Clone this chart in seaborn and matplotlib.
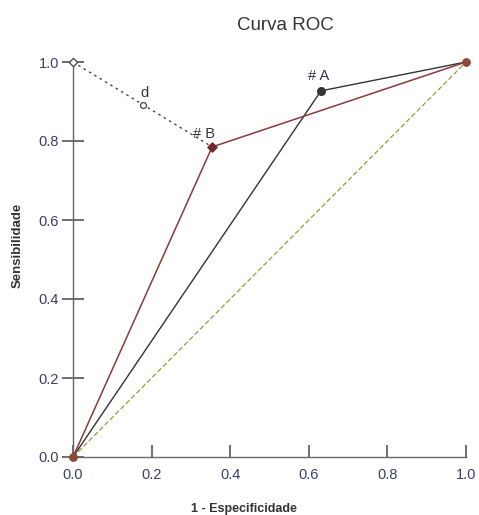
import matplotlib
matplotlib.use("Agg")
import matplotlib.pyplot as plt
import seaborn as sns
import pandas as pd

sns.set_style("white")
plt.rcParams['font.family'] = ['Liberation Sans', 'DejaVu Sans']

# Data
curve_a_x = [0.0, 0.631, 1.0]
curve_a_y = [0.0, 0.927, 1.0]
curve_b_x = [0.0, 0.354, 1.0]
curve_b_y = [0.0, 0.785, 1.0]
diag_x = [0.0, 1.0]
diag_y = [0.0, 1.0]
dist_x = [0.0, 0.178, 0.354]
dist_y = [1.0, 0.892, 0.785]
ticks = [0.0, 0.2, 0.4, 0.6, 0.8, 1.0]
tick_labels = ["0.0", "0.2", "0.4", "0.6", "0.8", "1.0"]

fig = plt.figure(figsize=(4.79, 5.15), dpi=100)
ax = fig.add_axes([73/479, 1-457/515, 393/479, 395/515])

tc = '#3a3f66'
sns.lineplot(x=diag_x, y=diag_y, ax=ax, color='#9a9a40', lw=0.9, linestyle=(0, (4, 2)), clip_on=False)
sns.lineplot(x=curve_a_x, y=curve_a_y, ax=ax, color='#333333', lw=1.0, clip_on=False)
sns.lineplot(x=curve_b_x, y=curve_b_y, ax=ax, color='#8b3a3a', lw=1.1, clip_on=False)
sns.lineplot(x=dist_x, y=dist_y, ax=ax, color='#333333', lw=0.9, linestyle=(0, (2, 3)), clip_on=False)

ax.scatter([dist_x[0]], [dist_y[0]], marker='D', s=18, facecolor='white', edgecolor='#444444', lw=0.9, zorder=5, clip_on=False)
ax.scatter([dist_x[1]], [dist_y[1]], marker='o', s=18, facecolor='white', edgecolor='#444444', lw=0.9, zorder=5, clip_on=False)
ax.scatter([curve_b_x[1]], [curve_b_y[1]], marker='D', s=22, color='#6b2a2a', zorder=5, clip_on=False)
ax.scatter([curve_a_x[1]], [curve_a_y[1]], marker='o', s=30, color='#333333', zorder=5, clip_on=False)
ax.scatter([0, 1], [0, 1], marker='o', s=28, color='#8b4a3a', zorder=6, clip_on=False)

ax.text(curve_a_x[1] - 0.005, curve_a_y[1] + 0.02, "# A", fontsize=10.5, color='#333344', ha='center', va='bottom')
ax.text(curve_b_x[1] - 0.02, curve_b_y[1] + 0.015, "# B", fontsize=10.5, color='#333344', ha='center', va='bottom')
ax.text(dist_x[1] + 0.005, dist_y[1] + 0.012, "d", fontsize=10.5, color='#333344', ha='center', va='bottom')

ax.set_xlim(0, 1)
ax.set_ylim(0, 1)
ax.set_xticks(ticks)
ax.set_xticklabels(tick_labels)
ax.set_yticks(ticks)
ax.set_yticklabels(tick_labels)
for s in ['top', 'right']:
    ax.spines[s].set_visible(False)
for s in ['left', 'bottom']:
    ax.spines[s].set_color('#666666')
    ax.spines[s].set_linewidth(1.0)
ax.tick_params(axis='x', bottom=True, direction='in', length=9, width=1.2, color='#555555', labelsize=10.5, labelcolor=tc, pad=8)
ax.tick_params(axis='y', left=True, direction='inout', length=16, width=1.2, color='#555555', labelsize=10.5, labelcolor=tc, pad=2)

fig.text(285/479, 1-25/515, "Curva ROC", ha='center', va='center', fontsize=13.5, color='#333333')
fig.text(244/479, 1-509/515, "1 - Especificidade", ha='center', va='center', fontsize=9, fontweight='bold', color='#333333')
fig.text(18/479, 1-245/515, "Sensibilidade", ha='center', va='center', rotation=90, fontsize=9.5, fontweight='bold', color='#333333')

fig.savefig("out.png", dpi=100)
